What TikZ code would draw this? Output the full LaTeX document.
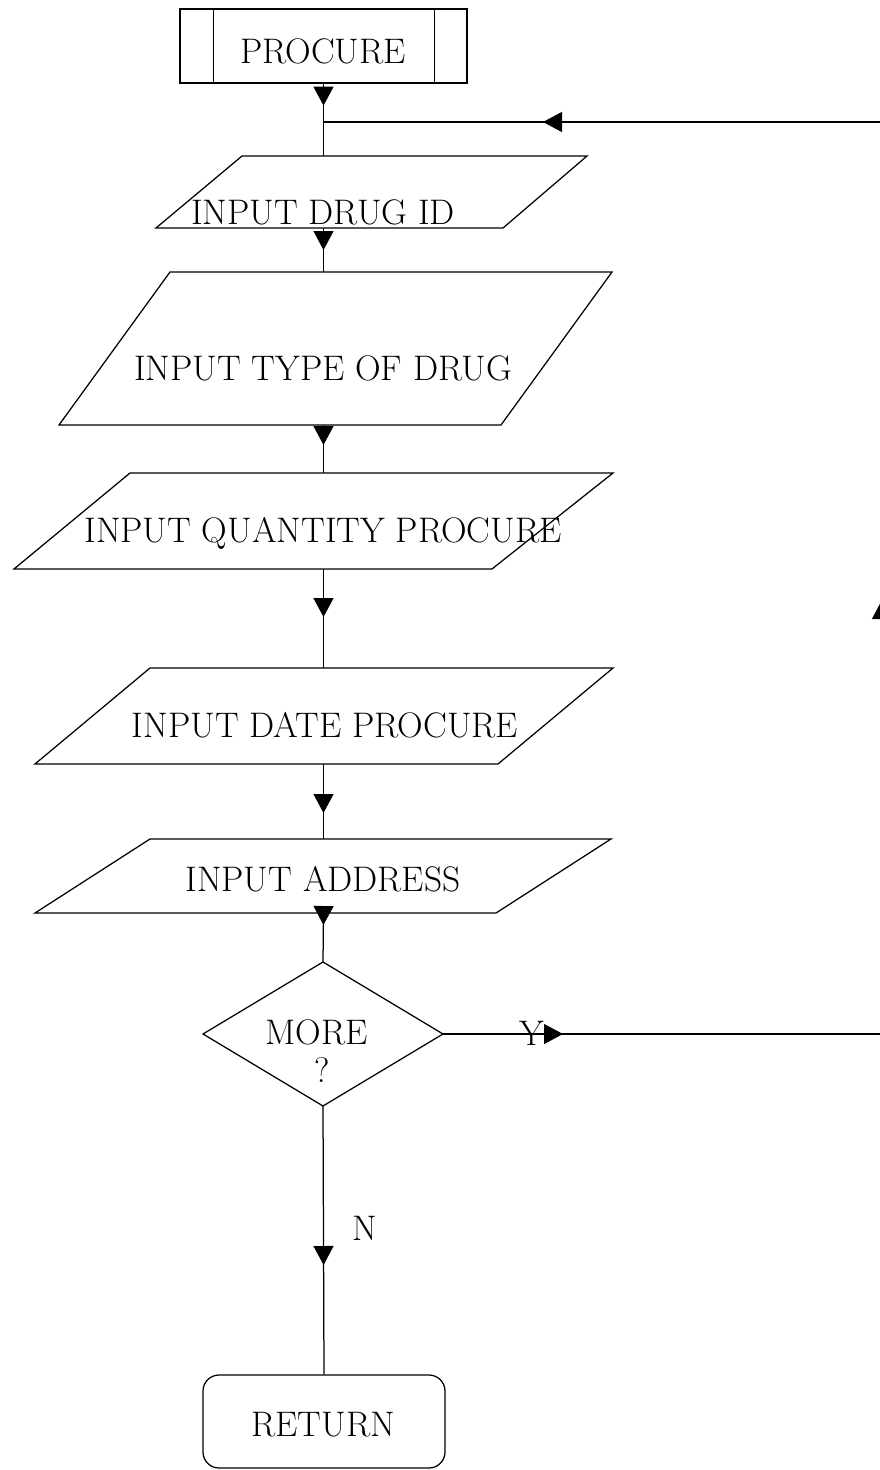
\documentclass[tikz,border=0pt]{standalone}
\usepackage{fontspec}
\usetikzlibrary{arrows.meta,decorations.markings}
\begin{document}
\begin{tikzpicture}[x=1pt,y=-1pt,line width=1.25pt,
  font=\fontsize{35.5}{42}\selectfont,
  lbl/.style={inner sep=0pt,text depth=0pt,anchor=center},
  tri/.tip={Triangle[length=19pt,width=20pt]},
  tipat/.style={postaction={decorate},
    decoration={markings,mark=at position #1 with {\arrow{tri}}}}]

% page
\fill[white] (0,0) rectangle (880,1470);
\useasboundingbox (0,0) rectangle (880,1470);
\clip (0,0) rectangle (880,1470);

% predefined process: PROCURE
\node[draw,minimum width=287pt,minimum height=74pt,inner sep=0pt] (procure) at (323.5,46) {};
\draw ([xshift=34pt]procure.north west) -- ([xshift=34pt]procure.south west);
\draw ([xshift=-33pt]procure.north east) -- ([xshift=-33pt]procure.south east);
\node[lbl] (tprocure) at (323,51) {PROCURE};

% input steps
\draw (242,156) -- (587,156) -- (503,228) -- (156,228) -- cycle;
\node[lbl] (t1) at (323,212) {INPUT DRUG ID};
\draw (170,272) -- (612,272) -- (501,425) -- (59,425) -- cycle;
\node[lbl] (t2) at (323,368) {INPUT TYPE OF DRUG};
\draw (130,473) -- (613,473) -- (492,569) -- (14,569) -- cycle;
\node[lbl] (t3) at (323,530) {INPUT QUANTITY PROCURE};
\draw (150,668) -- (613,668) -- (498,764) -- (35,764) -- cycle;
\node[lbl] (t4) at (325,725) {INPUT DATE PROCURE};
\draw (150,839) -- (611,839) -- (496,913) -- (35,913) -- cycle;
\node[lbl] (t5) at (323,879) {INPUT ADDRESS};

% decision
\draw (323,962) -- (443,1034) -- (323,1106) -- (203,1034) -- cycle;
\node[lbl] (tmore) at (316.5,1032) {MORE};
\node[lbl] (tq) at (322,1070) {?};

% terminator
\node[draw,rounded corners=16pt,minimum width=242pt,minimum height=93pt,inner sep=0pt] (ret) at (324,1421.5) {};
\node[lbl] (tret) at (323,1424) {RETURN};

% connection points
\coordinate (j) at (323.5,122);
\coordinate (p1t) at (323.5,156);
\coordinate (p1b) at (323.5,228);
\coordinate (p2t) at (323.5,272);
\coordinate (p2b) at (323.5,425);
\coordinate (p3t) at (323.5,473);
\coordinate (p3b) at (323.5,569);
\coordinate (p4t) at (323.5,668);
\coordinate (p4b) at (323.5,764);
\coordinate (p5t) at (323.5,839);
\coordinate (p5b) at (323.5,913);
\coordinate (dt) at (323,962);
\coordinate (db) at (323,1106);
\coordinate (dr) at (443,1034);
\coordinate (c1) at (882,1034);
\coordinate (c2) at (882,122);

% flow lines
\draw[tipat=22pt] (procure.south) -- (p1t);
\draw[tipat=22pt] (p1b) -- (p2t);
\draw[tipat=20pt] (p2b) -- (p3t);
\draw[tipat=48pt] (p3b) -- (p4t);
\draw[tipat=49pt] (p4b) -- (p5t);
\draw[tipat=12pt] (p5b) -- (dt);
\draw[tipat=159pt] (db) -- (ret.north);

% loop back on Y
\draw[postaction={decorate},decoration={markings,
    mark=at position 120pt with {\arrow{tri}},
    mark=at position 873pt with {\arrow{tri}},
    mark=at position 1690pt with {\arrow{tri}}}]
  (dr) -- (c1) -- (c2) -- (j);

\node[lbl] (ty) at (532,1033) {Y};
\node[lbl] (tn) at (365,1228) {N};
\end{tikzpicture}
\end{document}
